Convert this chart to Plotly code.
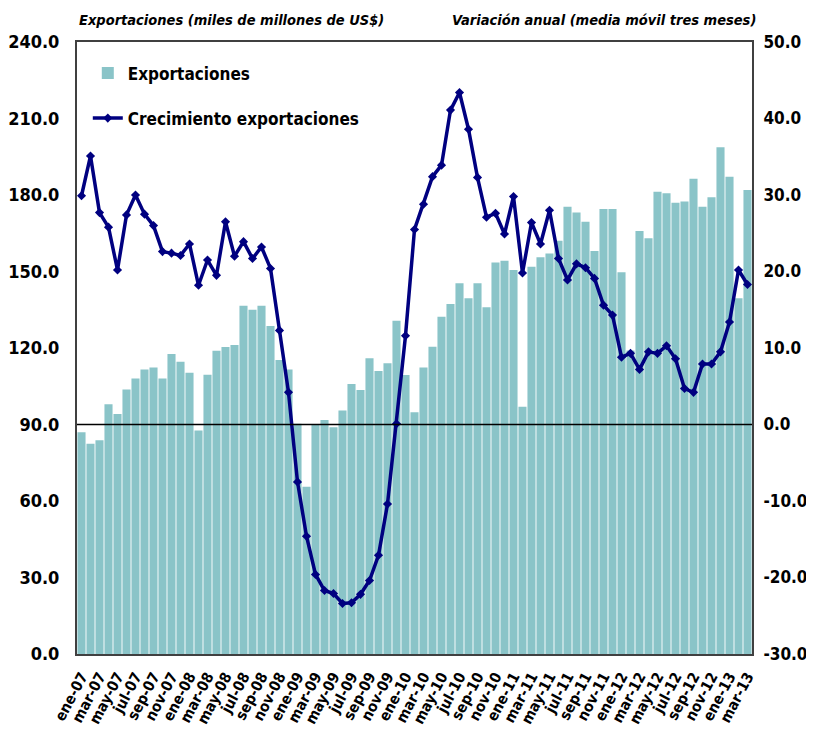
import plotly.graph_objects as go

month_names = ["ene", "feb", "mar", "abr", "may", "jun", "jul", "ago", "sep", "oct", "nov", "dic"]
years = ["07", "08", "09", "10", "11", "12", "13"]
months = [f"{m}-{y}" for y in years for m in month_names][:75]  # ene-07 .. mar-13

# Exportaciones (miles de millones de US$)
exports = [
    87.0, 82.5, 83.8, 97.9, 94.1, 103.7, 108.0, 111.6, 112.4, 108.0, 117.6, 114.6,
    110.3, 87.6, 109.5, 118.9, 120.4, 121.2, 136.6, 135.0, 136.6, 128.6, 115.3, 111.6,
    90.3, 65.6, 90.0, 91.8, 88.9, 95.5, 105.9, 103.5, 116.0, 111.0, 114.0, 130.7,
    109.4, 94.8, 112.4, 120.5, 132.3, 137.3, 145.4, 139.5, 145.4, 136.0, 153.5, 154.2,
    150.6, 97.0, 151.9, 155.6, 157.1, 162.1, 175.4, 173.1, 169.5, 158.0, 174.5, 174.5,
    149.7, 119.0, 165.9, 163.0, 181.3, 180.7, 177.0, 177.5, 186.4, 175.4, 179.1, 198.7,
    187.2, 139.5, 182.0,
]

# Crecimiento exportaciones (variación anual, media móvil tres meses)
growth = [
    29.9, 35.1, 27.7, 25.8, 20.2, 27.4, 30.0, 27.5, 26.0, 22.6, 22.4, 22.1,
    23.6, 18.2, 21.5, 19.5, 26.5, 22.0, 23.9, 21.7, 23.2, 20.4, 12.3, 4.2,
    -7.5, -14.6, -19.6, -21.7, -22.1, -23.4, -23.3, -22.2, -20.4, -17.1, -10.4, 0.1,
    11.6, 25.5, 28.8, 32.4, 33.9, 41.1, 43.4, 38.6, 32.3, 27.1, 27.6, 24.9,
    29.8, 19.8, 26.4, 23.6, 28.0, 21.7, 18.9, 21.0, 20.5, 19.1, 15.6, 14.3,
    8.8, 9.3, 7.2, 9.5, 9.3, 10.3, 8.6, 4.7, 4.2, 7.9, 7.9, 9.5,
    13.4, 20.2, 18.3,
]

left_ticks = [0, 30, 60, 90, 120, 150, 180, 210, 240]
left_labels = ["0.0", "30.0", "60.0", "90.0", "120.0", "150.0", "180.0", "210.0", "240.0"]
right_ticks = [-30, -20, -10, 0, 10, 20, 30, 40, 50]
right_labels = ["-30.0", "-20.0", "-10.0", "0.0", "10.0", "20.0", "30.0", "40.0", "50.0"]
x_ticks = months[::2]

FONT = "DejaVu Sans Condensed"
BAR_COLOR = "#8AC4C8"
LINE_COLOR = "#000080"

fig = go.Figure()
fig.add_trace(go.Bar(
    x=months, y=exports, name="Exportaciones",
    marker=dict(color=BAR_COLOR, line=dict(width=0)),
    yaxis="y", legendgroup="a",
))
fig.add_trace(go.Scatter(
    x=months, y=growth, name="Crecimiento exportaciones",
    mode="lines+markers",
    line=dict(color=LINE_COLOR, width=3.5),
    marker=dict(symbol="diamond", size=7, color=LINE_COLOR),
    yaxis="y2", legendgroup="b",
))

fig.add_shape(type="line", xref="paper", x0=0, x1=1, yref="y", y0=90, y1=90,
              line=dict(color="black", width=1.5), layer="above")

fig.update_layout(
    width=806, height=730,
    margin=dict(l=69, r=62, t=34, b=84, autoexpand=False),
    paper_bgcolor="white", plot_bgcolor="white",
    bargap=0.1,
    font=dict(family=FONT, color="black"),
    showlegend=True,
    legend=dict(x=0.016, y=0.978, xanchor="left", yanchor="top",
                font=dict(size=17, family=FONT, color="black", weight="bold"),
                bgcolor="rgba(0,0,0,0)", tracegroupgap=20, itemwidth=30),
    xaxis=dict(
        type="category", tickmode="array", tickvals=x_ticks, ticktext=x_ticks,
        tickangle=-62, tickfont=dict(size=15, family=FONT, weight="bold"),
        showgrid=False, showline=True, linecolor="#404040", linewidth=2, mirror=True,
        ticks="", ticklabelstandoff=6,
        range=[-0.5, len(months) - 0.5], automargin=False,
    ),
    yaxis=dict(
        range=[0, 240], tickvals=left_ticks, ticktext=left_labels,
        tickfont=dict(size=18, family=FONT, weight="bold"),
        showgrid=False, zeroline=False, showline=True, linecolor="#404040",
        linewidth=2, ticks="", ticklabelstandoff=12, automargin=False,
    ),
    yaxis2=dict(
        range=[-30, 50], tickvals=right_ticks, ticktext=right_labels,
        tickfont=dict(size=17, family=FONT, weight="bold"),
        overlaying="y", side="right", showgrid=False, zeroline=False,
        showline=True, linecolor="#404040", linewidth=2, ticks="",
        ticklabelstandoff=6, automargin=False,
    ),
    annotations=[
        dict(text="<b><i>Exportaciones (miles de millones de US$)</i></b>",
             xref="paper", yref="paper", x=0.0, y=1.0, xanchor="left", yanchor="bottom",
             yshift=12, showarrow=False, font=dict(size=14.5, family=FONT)),
        dict(text="<b><i>Variación anual (media móvil tres meses)</i></b>",
             xref="paper", yref="paper", x=1.0, y=1.0, xanchor="right", yanchor="bottom",
             yshift=12, xshift=6, showarrow=False, font=dict(size=14.5, family=FONT)),
    ],
)

fig.write_html("out.html")
